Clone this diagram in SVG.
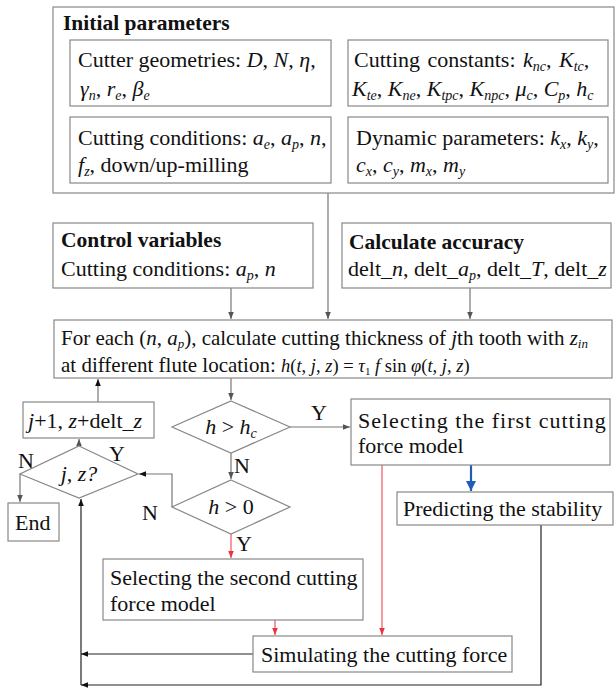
<svg xmlns="http://www.w3.org/2000/svg" width="616" height="688" viewBox="0 0 616 688">
<defs>
<style>
text{font-family:'Liberation Serif','DejaVu Serif',serif;font-size:22px;fill:#111}
.b{font-weight:bold;font-size:21.5px}
.m{font-size:21px}
.i{font-style:italic}
.s{font-size:14px}
.f{font-size:18.5px}
.box{fill:#fff;stroke:#888;stroke-width:1.2}
.ln{fill:none;stroke:#777;stroke-width:1.2}
.dk{fill:none;stroke:#222;stroke-width:1.2}
.red{fill:none;stroke:#f05560;stroke-width:1.2}
.blue{fill:none;stroke:#1f5cb8;stroke-width:2.2}
.c{text-anchor:middle}
</style>
<marker id="ag" viewBox="0 0 10 10" refX="10" refY="5" markerWidth="7" markerHeight="7" markerUnits="userSpaceOnUse" orient="auto"><path d="M0,1 L10,5 L0,9 z" fill="#555"/></marker>
<marker id="ak" viewBox="0 0 10 10" refX="10" refY="5" markerWidth="7" markerHeight="7" markerUnits="userSpaceOnUse" orient="auto"><path d="M0,1 L10,5 L0,9 z" fill="#111"/></marker>
<marker id="ar" viewBox="0 0 10 10" refX="10" refY="5" markerWidth="7" markerHeight="7" markerUnits="userSpaceOnUse" orient="auto"><path d="M0,1 L10,5 L0,9 z" fill="#f0303a"/></marker>
<marker id="ab" viewBox="0 0 10 10" refX="10" refY="5" markerWidth="10" markerHeight="12" markerUnits="userSpaceOnUse" orient="auto"><path d="M0,0 L10,5 L0,10 z" fill="#1f5cb8"/></marker>
</defs>
<rect width="616" height="688" fill="#fff"/>

<g id="connectors">
<path class="ln" d="M328,193 V319" marker-end="url(#ag)"/>
<path class="ln" d="M231,288 V319" marker-end="url(#ag)"/>
<path class="ln" d="M470,288 V319" marker-end="url(#ag)"/>
<path class="ln" d="M231,378 V400" marker-end="url(#ag)"/>
<path class="ln" d="M290,427 H350" marker-end="url(#ag)"/>
<path class="ln" d="M231,453 V479" marker-end="url(#ag)"/>
<path class="ln" d="M172,507 V474 H139" marker-end="url(#ak)"/>
<path class="ln" d="M79,446 V439" marker-end="url(#ag)"/>
<path class="ln" d="M98,402 V379" marker-end="url(#ak)"/>
<path class="ln" d="M20,474 V502" marker-end="url(#ag)"/>
<path class="red" d="M231,534 V558" marker-end="url(#ar)"/>
<path class="red" d="M382,465 V635" marker-end="url(#ar)"/>
<path class="red" d="M275,620 V635" marker-end="url(#ar)"/>
<path class="blue" d="M471,465 V491" marker-end="url(#ab)"/>
<path class="dk" d="M253,654 H81" marker-end="url(#ak)"/>
<path class="dk" d="M541,525 V685 H81" marker-end="url(#ak)"/>
<path class="dk" d="M81,685 V499" marker-end="url(#ak)"/>
</g>

<g id="initial-parameters">
<rect class="box" x="53" y="7" width="561" height="186"/>
<text class="b" x="63" y="30">Initial parameters</text>
</g>
<g id="cutter-geometries">
<rect class="box" x="70" y="40" width="261" height="66"/>
<text x="78" y="67">Cutter geometries: <tspan class="i">D</tspan>, <tspan class="i">N</tspan>,  <tspan class="i">η</tspan>,</text>
<text x="80" y="96"><tspan class="i">γ</tspan><tspan class="s i" dy="4">n</tspan><tspan dy="-4">, </tspan><tspan class="i">r</tspan><tspan class="s i" dy="4">e</tspan><tspan dy="-4">,  </tspan><tspan class="i">β</tspan><tspan class="s i" dy="4">e</tspan></text>
</g>
<g id="cutting-constants">
<rect class="box" x="348" y="40" width="260" height="66"/>
<text x="354" y="67" word-spacing="2">Cutting constants: <tspan class="i">k</tspan><tspan class="s i" dy="4">nc</tspan><tspan dy="-4">, </tspan><tspan class="i">K</tspan><tspan class="s i" dy="4">tc</tspan><tspan dy="-4">,</tspan></text>
<text x="352" y="96"><tspan class="i">K</tspan><tspan class="s i" dy="4">te</tspan><tspan dy="-4">, </tspan><tspan class="i">K</tspan><tspan class="s i" dy="4">ne</tspan><tspan dy="-4">, </tspan><tspan class="i">K</tspan><tspan class="s i" dy="4">tpc</tspan><tspan dy="-4">, </tspan><tspan class="i">K</tspan><tspan class="s i" dy="4">npc</tspan><tspan dy="-4">,  </tspan><tspan class="i">μ</tspan><tspan class="s i" dy="4">c</tspan><tspan dy="-4">, </tspan><tspan class="i">C</tspan><tspan class="s i" dy="4">p</tspan><tspan dy="-4">, </tspan><tspan class="i">h</tspan><tspan class="s i" dy="4">c</tspan></text>
</g>
<g id="cutting-conditions">
<rect class="box" x="70" y="117" width="261" height="66"/>
<text x="78" y="145">Cutting conditions: <tspan class="i">a</tspan><tspan class="s i" dy="4">e</tspan><tspan dy="-4">, </tspan><tspan class="i">a</tspan><tspan class="s i" dy="4">p</tspan><tspan dy="-4">, </tspan><tspan class="i">n</tspan>,</text>
<text x="78" y="172"><tspan class="i">f</tspan><tspan class="s i" dy="4">z</tspan><tspan dy="-4">, down/up-milling</tspan></text>
</g>
<g id="dynamic-parameters">
<rect class="box" x="348" y="117" width="260" height="66"/>
<text x="356" y="145">Dynamic parameters: <tspan class="i">k</tspan><tspan class="s i" dy="4">x</tspan><tspan dy="-4">, </tspan><tspan class="i">k</tspan><tspan class="s i" dy="4">y</tspan><tspan dy="-4">,</tspan></text>
<text x="356" y="172"><tspan class="i">c</tspan><tspan class="s i" dy="4">x</tspan><tspan dy="-4">, </tspan><tspan class="i">c</tspan><tspan class="s i" dy="4">y</tspan><tspan dy="-4">, </tspan><tspan class="i">m</tspan><tspan class="s i" dy="4">x</tspan><tspan dy="-4">, </tspan><tspan class="i">m</tspan><tspan class="s i" dy="4">y</tspan></text>
</g>

<g id="control-variables">
<rect class="box" x="53" y="223" width="260" height="65"/>
<text class="b" x="61" y="247">Control variables</text>
<text x="61" y="276">Cutting conditions: <tspan class="i">a</tspan><tspan class="s i" dy="4">p</tspan><tspan dy="-4">, </tspan><tspan class="i">n</tspan></text>
</g>
<g id="calculate-accuracy">
<rect class="box" x="342" y="223" width="269" height="65"/>
<text class="b" x="349" y="249">Calculate accuracy</text>
<text x="348" y="276">delt_<tspan class="i">n</tspan>, delt_<tspan class="i">a</tspan><tspan class="s i" dy="4">p</tspan><tspan dy="-4">, delt_</tspan><tspan class="i">T</tspan>, delt_<tspan class="i">z</tspan></text>
</g>

<g id="main-box">
<rect class="box" x="54" y="320" width="558" height="58"/>
<text class="m" x="61" y="345">For each (<tspan class="i">n</tspan>, <tspan class="i">a</tspan><tspan class="i" font-size="13" dy="3">p</tspan><tspan dy="-3">), calculate cutting thickness of </tspan><tspan class="i">j</tspan>th tooth with <tspan class="i">z</tspan><tspan class="i" font-size="13" dy="3">in</tspan></text>
<text class="m" x="61" y="372">at different flute location:   <tspan class="i f">h</tspan><tspan class="f">(</tspan><tspan class="i f">t</tspan><tspan class="f">, </tspan><tspan class="i f">j</tspan><tspan class="f">, </tspan><tspan class="i f">z</tspan><tspan class="f">) = </tspan><tspan class="i f">τ</tspan><tspan font-size="11" dy="3">1</tspan><tspan class="i f" dy="-3"> f </tspan><tspan class="f"> sin </tspan><tspan class="i f">φ</tspan><tspan class="f">(</tspan><tspan class="i f">t</tspan><tspan class="f">, </tspan><tspan class="i f">j</tspan><tspan class="f">, </tspan><tspan class="i f">z</tspan><tspan class="f">)</tspan></text>
</g>

<g id="j-increment">
<rect class="box" x="23" y="402" width="131" height="36"/>
<text x="28" y="428"><tspan class="i">j</tspan>+1, <tspan class="i">z</tspan>+delt_<tspan class="i">z</tspan></text>
</g>
<g id="jz-decision">
<path class="box" d="M79,446 L138,474 L79,498 L20,474 z"/>
<text class="c i" x="79" y="481">j, z?</text>
<text x="18" y="468">N</text>
<text x="109" y="461">Y</text>
</g>
<g id="end">
<rect class="box" x="8" y="503" width="51" height="38"/>
<text x="15" y="530">End</text>
</g>
<g id="h-hc-decision">
<path class="box" d="M231,401 L290,427 L231,453 L172,427 z"/>
<text class="c" x="231" y="434"><tspan class="i">h</tspan> &gt; <tspan class="i">h</tspan><tspan class="s i" dy="4">c</tspan></text>
<text x="311" y="420">Y</text>
<text x="234" y="473">N</text>
</g>
<g id="h-0-decision">
<path class="box" d="M231,480 L290,507 L231,534 L172,507 z"/>
<text class="c" x="231" y="514"><tspan class="i">h</tspan> &gt; 0</text>
<text x="142" y="520">N</text>
<text x="236" y="551">Y</text>
</g>
<g id="first-model">
<rect class="box" x="351" y="399" width="259" height="66"/>
<text x="358" y="428" letter-spacing="1">Selecting the first cutting</text>
<text x="358" y="453">force model</text>
</g>
<g id="predicting">
<rect class="box" x="397" y="492" width="216" height="33"/>
<text x="403" y="516">Predicting the stability</text>
</g>
<g id="second-model">
<rect class="box" x="103" y="559" width="260" height="61"/>
<text x="110" y="585">Selecting the second cutting</text>
<text x="110" y="611">force model</text>
</g>
<g id="simulating">
<rect class="box" x="253" y="636" width="259" height="36"/>
<text x="261" y="662">Simulating the cutting force</text>
</g>
</svg>
